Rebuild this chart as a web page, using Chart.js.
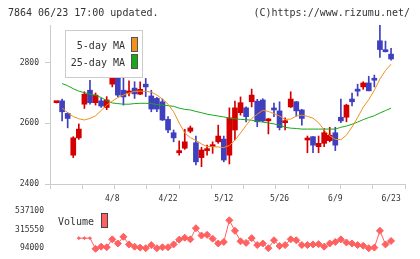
<!DOCTYPE html>
<html>
<head>
<meta charset="utf-8">
<script src="https://cdn.jsdelivr.net/npm/chart.js@4.4.1/dist/chart.umd.min.js"></script>
<style>
body{margin:0;background:#fff;font-family:"DejaVu Sans Mono",monospace;color:#333;}
#wrap{position:relative;width:420px;height:259px;overflow:hidden;}
canvas{position:absolute;left:0;}
.t{position:absolute;font-size:10px;line-height:12px;white-space:nowrap;}
.sw{position:absolute;width:7px;height:15px;box-sizing:border-box;border:1px solid #555;}
</style>
</head>
<body>
<div id="wrap">
<canvas id="priceChart" width="420" height="210" style="top:0"></canvas>
<canvas id="volChart" width="420" height="59" style="top:200px"></canvas>
<div style="position:absolute;left:65px;top:30px;width:78px;height:48px;box-sizing:border-box;border:1px solid #ccc;background:#fff"></div>
<div class="t" style="left:0;width:125px;text-align:right;top:40px">5-day MA</div>
<div class="sw" style="left:131px;top:37px;background:#f0901e"></div>
<div class="t" style="left:0;width:125px;text-align:right;top:57px">25-day MA</div>
<div class="sw" style="left:131px;top:54px;background:#18a818"></div>
<div class="t" style="left:58px;top:216px">Volume</div>
<div class="sw" style="left:101px;top:213px;background:#ff6060;border-color:#444"></div>
</div>
<script>
// dates of the 61 sessions, labels every 10 sessions
const dates = ['3/25','3/26','3/27','3/28','3/31','4/1','4/2','4/3','4/4','4/7',
  '4/8','4/9','4/10','4/11','4/14','4/15','4/16','4/17','4/18','4/21',
  '4/22','4/23','4/24','4/25','4/28','4/30','5/1','5/2','5/7','5/9',
  '5/12','5/13','5/14','5/15','5/16','5/19','5/20','5/21','5/22','5/23',
  '5/26','5/27','5/28','5/29','5/30','6/2','6/3','6/4','6/5','6/6',
  '6/9','6/10','6/11','6/12','6/13','6/16','6/17','6/18','6/19','6/20','6/23'];
const labelDates = ['4/8','4/22','5/12','5/26','6/9','6/23'];

const openP  = [2668,2674,2633,2495,2552,2663,2709,2668,2674,2652,2729,2755,2709,2700,2716,2696,2729,2690,2682,2671,
  2613,2569,2503,2518,2574,2536,2487,2510,2523,2539,2548,2495,2578,2635,2651,2671,2673,2677,2608,2649,
  2641,2602,2654,2671,2644,2545,2556,2523,2534,2543,2569,2620,2620,2680,2709,2720,2733,2748,2872,2841,2828];
const highP  = [2670,2680,2635,2556,2598,2704,2742,2700,2682,2688,2766,2766,2764,2740,2737,2737,2748,2709,2686,2680,
  2622,2578,2542,2580,2591,2558,2521,2528,2539,2594,2558,2651,2673,2687,2654,2713,2679,2681,2616,2667,
  2671,2618,2704,2672,2646,2558,2556,2558,2583,2587,2587,2680,2663,2700,2729,2737,2755,2759,2923,2871,2847];
const lowP   = [2667,2608,2585,2487,2547,2649,2663,2660,2652,2645,2720,2687,2660,2690,2682,2694,2688,2638,2638,2609,
  2569,2539,2495,2514,2569,2463,2457,2495,2501,2534,2473,2466,2545,2627,2605,2654,2589,2605,2565,2622,
  2578,2578,2652,2624,2594,2503,2503,2503,2523,2539,2510,2602,2605,2657,2690,2712,2707,2720,2817,2835,2808];
const closeP = [2669,2638,2616,2552,2581,2696,2668,2693,2657,2677,2755,2693,2687,2703,2697,2712,2720,2647,2647,2611,
  2578,2552,2510,2539,2585,2473,2512,2514,2528,2558,2479,2618,2651,2668,2622,2693,2605,2608,2613,2644,
  2586,2607,2680,2641,2616,2550,2528,2534,2569,2561,2528,2608,2660,2671,2706,2733,2707,2742,2843,2836,2812];

const ma5 = [null,2650,2635,2622,2615,2611,2616,2625,2642,2660,2673,2685,2693,2700,2705,2706,2705,2703,2693,2680,
  2663,2638,2601,2568,2553,2543,2532,2523,2523,2522,2520,2527,2544,2568,2593,2616,2630,2643,2639,2632,
  2624,2613,2614,2624,2627,2623,2617,2602,2578,2559,2547,2546,2561,2588,2619,2653,2678,2709,2746,2774,2795];
const ma25 = [null,2731,2724,2714,2706,2701,2696,2692,2685,2675,2667,2665,2663,2663,2665,2666,2666,2665,2662,2660,
  2658,2656,2650,2646,2644,2639,2635,2630,2627,2624,2621,2617,2615,2613,2612,2610,2607,2604,2601,2598,
  2594,2587,2584,2583,2581,2581,2581,2581,2581,2581,2581,2587,2591,2597,2604,2612,2619,2625,2634,2642,2650];

const volume = [null,null,null,null,213000,213000,213000,87000,112000,105000,199000,150000,229000,139000,112000,101000,94000,131000,94000,105000,
  105000,139000,195000,218000,199000,331000,244000,252000,207000,150000,168000,424000,300000,176000,157000,213000,131000,150000,94000,188000,
  120000,131000,199000,188000,131000,131000,139000,142000,112000,150000,168000,199000,162000,150000,131000,123000,94000,101000,300000,139000,180000];

const priceTicks = [2400,2600,2800];
const volTicks = [94000,315550,537100];

const monoFont = {family:'DejaVu Sans Mono', size:8};
const xMin = -1.17, xMax = 62.5;

function pts(arr){ return arr.map((v,i)=>({x:i,y:v})).filter(p=>p.y!==null); }

const candleColor = closeP.map((c,i)=> c >= openP[i] ? '#d40000' : '#3f3fbf');

// header line drawn on the price canvas
const headerText = {
  id:'headerText',
  afterDraw(chart){
    const ctx = chart.ctx;
    ctx.save();
    ctx.font = '10px "DejaVu Sans Mono"';
    ctx.fillStyle = '#333';
    ctx.textBaseline = 'middle';
    ctx.textAlign = 'left';
    ctx.fillText('7864 06/23 17:00 updated.', 8, 13);
    ctx.textAlign = 'right';
    ctx.fillText('(C)https://www.rizumu.net/', 410, 13);
    ctx.restore();
  }
};

new Chart(document.getElementById('priceChart'), {
  type:'bar',
  data:{datasets:[
    {type:'line', data:pts(ma5), borderColor:'#f0901e', borderWidth:1, pointRadius:0, xAxisID:'x', yAxisID:'y', order:0},
    {type:'line', data:pts(ma25), borderColor:'#18a818', borderWidth:1, pointRadius:0, xAxisID:'x', yAxisID:'y', order:0},
    {data:openP.map((o,i)=>({x:i,y:[o,closeP[i]]})), backgroundColor:candleColor, barThickness:5, minBarLength:2, grouped:false, xAxisID:'x', yAxisID:'y', order:1},
    {data:lowP.map((l,i)=>({x:i,y:[l,highP[i]]})), backgroundColor:candleColor, barThickness:1, grouped:false, xAxisID:'x', yAxisID:'y', order:2}
  ]},
  options:{
    responsive:false,
    animation:false,
    plugins:{legend:{display:false}, tooltip:{enabled:false}},
    layout:{padding:{left:0,right:15,top:25,bottom:0}},
    scales:{
      x:{type:'linear', position:'bottom', weight:1, min:xMin, max:xMax, offset:false,
        afterBuildTicks:s=>{ s.ticks = dates.map((d,i)=>labelDates.includes(d)?{value:i}:null).filter(Boolean); },
        afterFit:s=>{ s.height = 21; },
        grid:{display:false, drawTicks:false, tickLength:0, offset:false}, border:{display:false},
        ticks:{padding:5, maxRotation:0, autoSkip:false, color:'#333', font:monoFont, callback:v=>dates[v]}},
      xt:{type:'linear', position:'bottom', weight:0, min:0, max:11, offset:false,
        afterBuildTicks:s=>{ s.ticks = [0,1,2,3,4,5,6,7,8,9,10,11].map(v=>({value:v})); },
        afterFit:s=>{ s.height = 5; },
        grid:{drawOnChartArea:false, tickLength:5, color:'#ccc', offset:false}, border:{color:'#ccc'},
        ticks:{display:false}},
      y:{min:2400, max:2924,
        afterBuildTicks:s=>{ s.ticks = priceTicks.map(v=>({value:v})); },
        afterFit:s=>{ s.width = 50; },
        grid:{drawOnChartArea:false, tickLength:5, color:'#ccc'}, border:{color:'#ccc'},
        ticks:{padding:6, color:'#333', font:monoFont, callback:v=>String(v)}}
    }
  },
  plugins:[headerText]
});

new Chart(document.getElementById('volChart'), {
  type:'line',
  data:{datasets:[{
    data:pts(volume), borderColor:'#ff6060', backgroundColor:'#ff6060', borderWidth:1,
    pointStyle:'rectRot', pointRadius:volume.filter(v=>v!==null).map((v,i)=> i<3 ? 1.5 : 3.5), clip:false
  }]},
  options:{
    responsive:false,
    animation:false,
    plugins:{legend:{display:false}, tooltip:{enabled:false}},
    layout:{padding:{left:0,right:15,top:9,bottom:10.7}},
    scales:{
      x:{type:'linear', min:xMin, max:xMax, display:false},
      y:{min:94000, max:537100,
        afterBuildTicks:s=>{ s.ticks = volTicks.map(v=>({value:v})); },
        afterFit:s=>{ s.width = 50; },
        grid:{display:false, drawTicks:false, tickLength:0}, border:{display:false},
        ticks:{padding:6, color:'#333', font:monoFont, callback:v=>String(v)}}
    }
  }
});
</script>
</body>
</html>
